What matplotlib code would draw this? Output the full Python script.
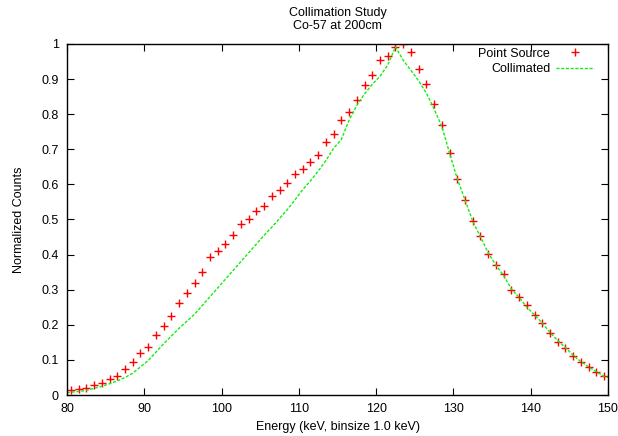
import numpy as np
import matplotlib
matplotlib.use('Agg')
import matplotlib.pyplot as plt

plt.rcParams['font.family'] = ['Liberation Sans', 'DejaVu Sans']
plt.rcParams['font.size'] = 9

# Point source: bin centres (1 keV bins)
energy = np.arange(80.5, 150, 1.0)
point_source = [0.013, 0.016, 0.021, 0.028, 0.034, 0.046, 0.055, 0.074, 0.093, 0.121,
                0.138, 0.171, 0.197, 0.225, 0.261, 0.291, 0.320, 0.350, 0.392, 0.410,
                0.431, 0.456, 0.487, 0.502, 0.525, 0.538, 0.567, 0.584, 0.604, 0.629,
                0.645, 0.665, 0.683, 0.720, 0.743, 0.783, 0.805, 0.840, 0.883, 0.911,
                0.954, 0.967, 0.991, 1.000, 0.976, 0.930, 0.887, 0.828, 0.770, 0.689,
                0.616, 0.556, 0.495, 0.453, 0.402, 0.369, 0.345, 0.300, 0.278, 0.256,
                0.229, 0.206, 0.176, 0.152, 0.135, 0.111, 0.094, 0.081, 0.066, 0.053]

# Collimated curve
coll_energy = [80.0] + list(np.arange(80.5, 150, 1.0)) + [150.0]
collimated = [0.007,
              0.008, 0.010, 0.013, 0.019, 0.025, 0.032, 0.040, 0.050, 0.062, 0.080,
              0.098, 0.122, 0.146, 0.168, 0.190, 0.210, 0.230, 0.255, 0.280, 0.305,
              0.330, 0.355, 0.380, 0.405, 0.430, 0.455, 0.478, 0.503, 0.528, 0.556,
              0.585, 0.610, 0.638, 0.668, 0.703, 0.728, 0.783, 0.825, 0.858, 0.885,
              0.908, 0.940, 0.992, 0.954, 0.925, 0.895, 0.860, 0.815, 0.765, 0.689,
              0.616, 0.556, 0.495, 0.450, 0.405, 0.370, 0.340, 0.302, 0.278, 0.250,
              0.228, 0.205, 0.178, 0.155, 0.135, 0.113, 0.095, 0.080, 0.066, 0.053,
              0.050]

fig = plt.figure(figsize=(6.18, 4.36), dpi=100)
ax = fig.add_axes([67/618, 41/436, 541/618, 351/436])

ax.plot(energy, point_source, '+', color='#ff0000', markersize=5.2, markeredgewidth=1.0,
        label='Point Source')
ax.plot(coll_energy, collimated, color='#11ee11', linewidth=1.0, dashes=(2.2, 1.2),
        label='Collimated')

ax.set_xlim(80, 150)
ax.set_ylim(0, 1)
ax.set_xticks(range(80, 151, 10))
ax.set_yticks(np.arange(0, 1.01, 0.1))
ax.set_yticklabels(['0', '0.1', '0.2', '0.3', '0.4', '0.5', '0.6', '0.7', '0.8', '0.9', '1'])
ax.tick_params(direction='in', top=True, right=True, length=5, width=0.8, pad=6)
for s in ax.spines.values():
    s.set_linewidth(1.0)

ax.set_title('Collimation Study\nCo-57 at 200cm', fontsize=9, linespacing=1.05, pad=11)
ax.set_xlabel('Energy (keV, binsize 1.0 keV)', labelpad=4)
ax.set_ylabel('Normalized Counts', labelpad=12)

ax.legend(loc='upper right', bbox_to_anchor=(0.974, 0.99), frameon=False,
          markerfirst=False, handlelength=3.0, handletextpad=0.5, borderpad=0,
          borderaxespad=0, labelspacing=0.3)

fig.savefig('out.png', dpi=100)
